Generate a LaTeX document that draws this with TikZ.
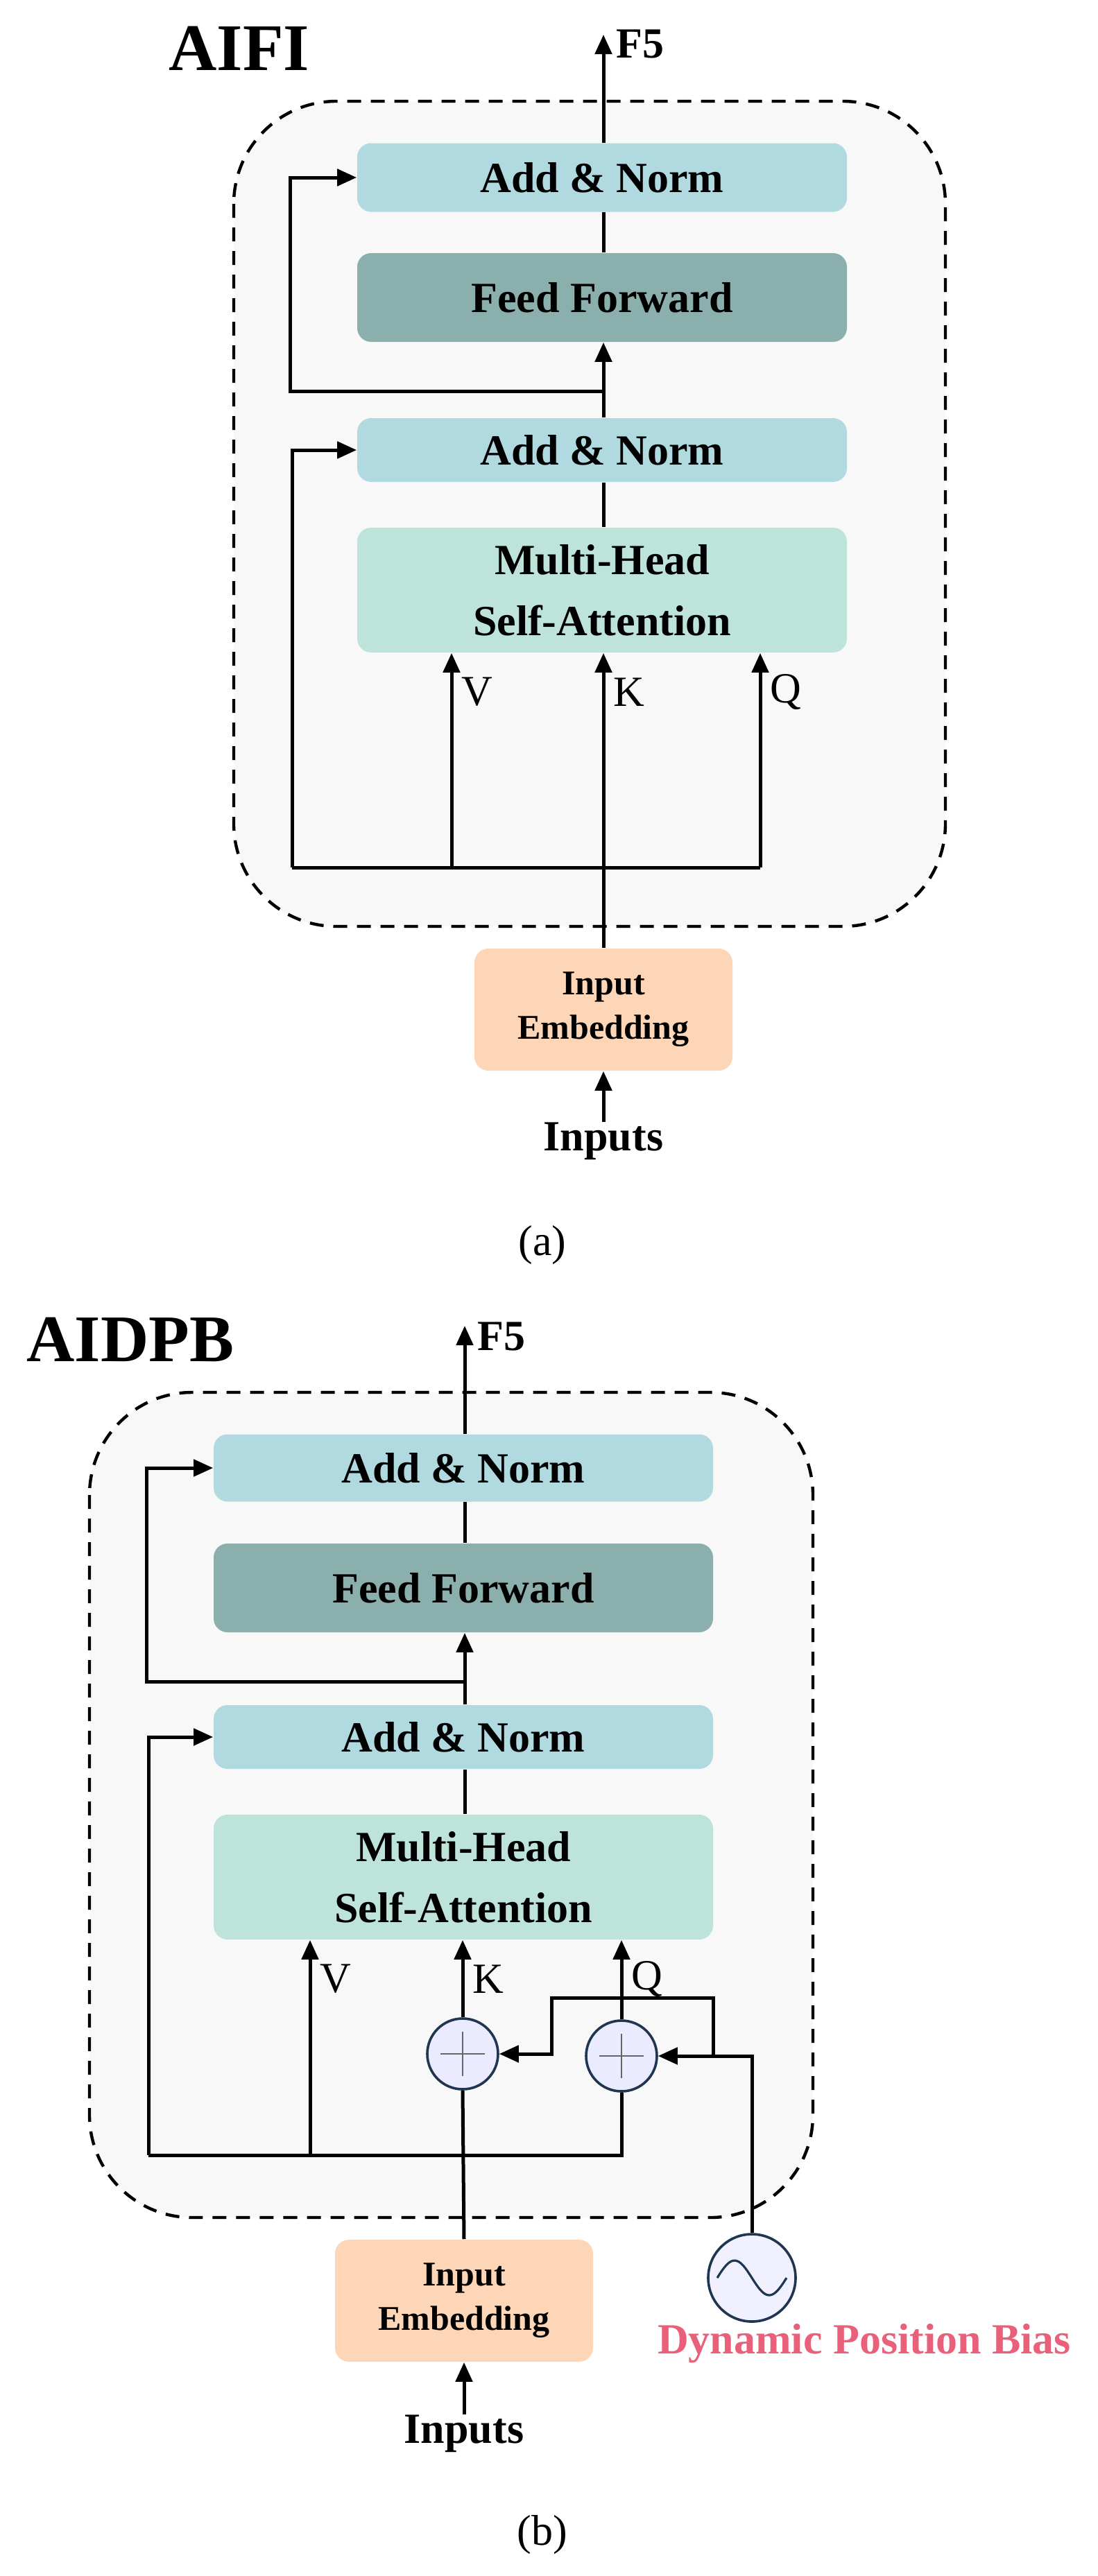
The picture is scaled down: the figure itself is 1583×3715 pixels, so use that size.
\documentclass[tikz,border=0pt]{standalone}
\usepackage{fontspec}
\setmainfont{Liberation Serif}
\usetikzlibrary{arrows.meta}
\definecolor{anorm}{HTML}{B0D9E0}
\definecolor{ffc}{HTML}{8AAFAD}
\definecolor{mhsa}{HTML}{BDE3DA}
\definecolor{inemb}{HTML}{FDD6B8}
\definecolor{bgc}{HTML}{F8F8F8}
\definecolor{navy}{HTML}{1F3550}
\definecolor{dpb}{HTML}{E8607A}
\begin{document}
\begin{tikzpicture}[x=0.25pt,y=-0.25pt,
  box/.style={rounded corners=5pt,draw=none,align=center,font=\bfseries\fontsize{15.5pt}{19pt}\selectfont,inner sep=0pt},
  an/.style={box,fill=anorm,minimum width=#1,minimum height=24pt},
  ff/.style={box,fill=ffc,minimum width=#1,minimum height=32pt},
  mh/.style={box,fill=mhsa,minimum width=#1,minimum height=45pt,font=\bfseries\fontsize{15.5pt}{22pt}\selectfont},
  ie/.style={box,fill=inemb,minimum width=93pt,minimum height=44pt,font=\bfseries\fontsize{12.5pt}{16pt}\selectfont},
  ln/.style={line width=1.25pt},
  ar/.style={ln,-{Triangle[length=7pt,width=6pt]}},
  dashbox/.style={draw,fill=bgc,line width=1.1pt,dash pattern=on 5pt off 3.5pt,rounded corners=37pt},
  lab/.style={font=\fontsize{15.5pt}{18pt}\selectfont,inner sep=0pt,anchor=west},
  bl/.style={font=\bfseries\fontsize{15.5pt}{18pt}\selectfont,inner sep=0pt},
  plus/.style={circle,draw=navy,line width=0.9pt,fill=blue!8,minimum size=25.5pt,inner sep=0pt},
]
\useasboundingbox (0,0) rectangle (1583,3715);

%%%%%%%%%%%% (a)
\node[bl,font=\bfseries\fontsize{24pt}{28pt}\selectfont] (tA) at (345,70) {AIFI};
\path[dashbox] (337,146) rectangle (1363,1336);
\node[an=176.5pt,minimum height=24.75pt] (an1a) at (868,256) {Add \& Norm};
\node[ff=176.5pt] (ffa) at (868,429) {Feed Forward};
\node[an=176.5pt,minimum height=23pt] (an2a) at (868,649) {Add \& Norm};
\node[mh=176.5pt] (mha) at (868,851) {Multi-Head\\Self-Attention};
\node[ie] (iea) at (870,1456) {Input\\Embedding};
\node[bl] (ina) at (870,1646) {Inputs};
\node[bl,anchor=west] (f5a) at (888,64) {F5};
\coordinate (f5pa) at (870,50);
\coordinate (ba) at (870,1251);
\coordinate (bla) at (421,1251);
\coordinate (bva) at (651,1251);
\coordinate (bqa) at (1096,1251);
\coordinate (ska) at (870,564);
\coordinate (skla) at (418,564);

\draw[ar] (ina.north) -- (iea.south);
\draw[ar] (iea.north) -- (mha.south -| ba) node[lab,pos=1,xshift=3pt,yshift=-14pt]{K};
\draw[ln] (bla) -- (bqa);
\draw[ar] (bva) -- (bva |- mha.south) node[lab,pos=1,xshift=3pt,yshift=-14pt]{V};
\draw[ar] (bqa) -- (bqa |- mha.south) node[lab,pos=1,xshift=3pt,yshift=-14pt]{Q};
\draw[ar] (bla) |- (an2a.west);
\draw[ln] (mha.north -| ba) -- (an2a.south -| ba);
\draw[ar] (an2a.north -| ba) -- (ffa.south -| ba);
\draw[ar] (ska) -- (skla) |- (an1a.west);
\draw[ln] (ffa.north -| ba) -- (an1a.south -| ba);
\draw[ar] (an1a.north -| ba) -- (f5pa);

\node[font=\fontsize{15.5pt}{18pt}\selectfont] (capa) at (782,1796) {(a)};

%%%%%%%%%%%% (b)
\node[bl,font=\bfseries\fontsize{24pt}{28pt}\selectfont] (tB) at (188,1932) {AIDPB};
\path[dashbox] (129,2008) rectangle (1172,3198);
\node[an=180pt,minimum height=24.25pt] (an1b) at (668,2117) {Add \& Norm};
\node[ff=180pt] (ffb) at (668,2290) {Feed Forward};
\node[an=180pt,minimum height=23pt] (an2b) at (668,2505) {Add \& Norm};
\node[mh=180pt] (mhb) at (668,2707) {Multi-Head\\Self-Attention};
\node[ie] (ieb) at (669,3318) {Input\\Embedding};
\node[bl] (inb) at (669,3510) {Inputs};
\node[bl,anchor=west] (f5b) at (688,1927) {F5};
\coordinate (f5pb) at (670,1912);
\coordinate (bb) at (670,3108);
\coordinate (blb) at (214,3108);
\coordinate (bvb) at (447,3108);
\coordinate (bqb) at (896,3108);
\coordinate (skb) at (670,2425);
\coordinate (sklb) at (211,2425);

\node[plus] (c1) at (667,2962) {};
\node[plus] (c2) at (896,2965) {};
\foreach \c in {c1,c2}{
  \draw[gray!80!black,line width=0.6pt] ([xshift=-8pt]\c.center) -- ([xshift=8pt]\c.center);
  \draw[gray!80!black,line width=0.6pt] ([yshift=-8pt]\c.center) -- ([yshift=8pt]\c.center);
}
\node[circle,draw=navy,line width=0.9pt,fill=blue!6,minimum size=31.5pt,inner sep=0pt] (dp) at (1084,3285) {};
\draw[navy,line width=0.8pt] plot[domain=-1:1,samples=40,smooth] ({1084+50*\x},{3285+25*sin(180*\x)});
\node[font=\bfseries\fontsize{15.5pt}{18pt}\selectfont,text=dpb,inner sep=0pt] (dpt) at (1246,3380) {Dynamic Position Bias};

\coordinate (j1) at (1084,2965);
\coordinate (j2) at (1028,2965);
\coordinate (j3) at (1028,2881);
\coordinate (j4) at (795,2881);
\coordinate (j5) at (795,2962);

\draw[ar] (inb.north) -- (ieb.south);
\draw[ln] (ieb.north) -- (c1.south);
\draw[ar] (c1.north) -- (c1.north |- mhb.south) node[lab,pos=1,xshift=3pt,yshift=-14pt]{K};
\draw[ln] (blb) -- (bqb) -- (c2.south);
\draw[ar] (c2.north) -- (c2.north |- mhb.south) node[lab,pos=1,xshift=3pt,yshift=-14pt]{Q};
\draw[ar] (bvb) -- (bvb |- mhb.south) node[lab,pos=1,xshift=3pt,yshift=-14pt]{V};
\draw[ar] (dp.north) -- (j1) -- (c2.east);
\draw[ar] (j2) -- (j3) -- (j4) -- (j5) -- (c1.east);
\draw[ar] (blb) |- (an2b.west);
\draw[ln] (mhb.north -| bb) -- (an2b.south -| bb);
\draw[ar] (an2b.north -| bb) -- (ffb.south -| bb);
\draw[ar] (skb) -- (sklb) |- (an1b.west);
\draw[ln] (ffb.north -| bb) -- (an1b.south -| bb);
\draw[ar] (an1b.north -| bb) -- (f5pb);

\node[font=\fontsize{15.5pt}{18pt}\selectfont] (capb) at (782,3656) {(b)};
\end{tikzpicture}
\end{document}
